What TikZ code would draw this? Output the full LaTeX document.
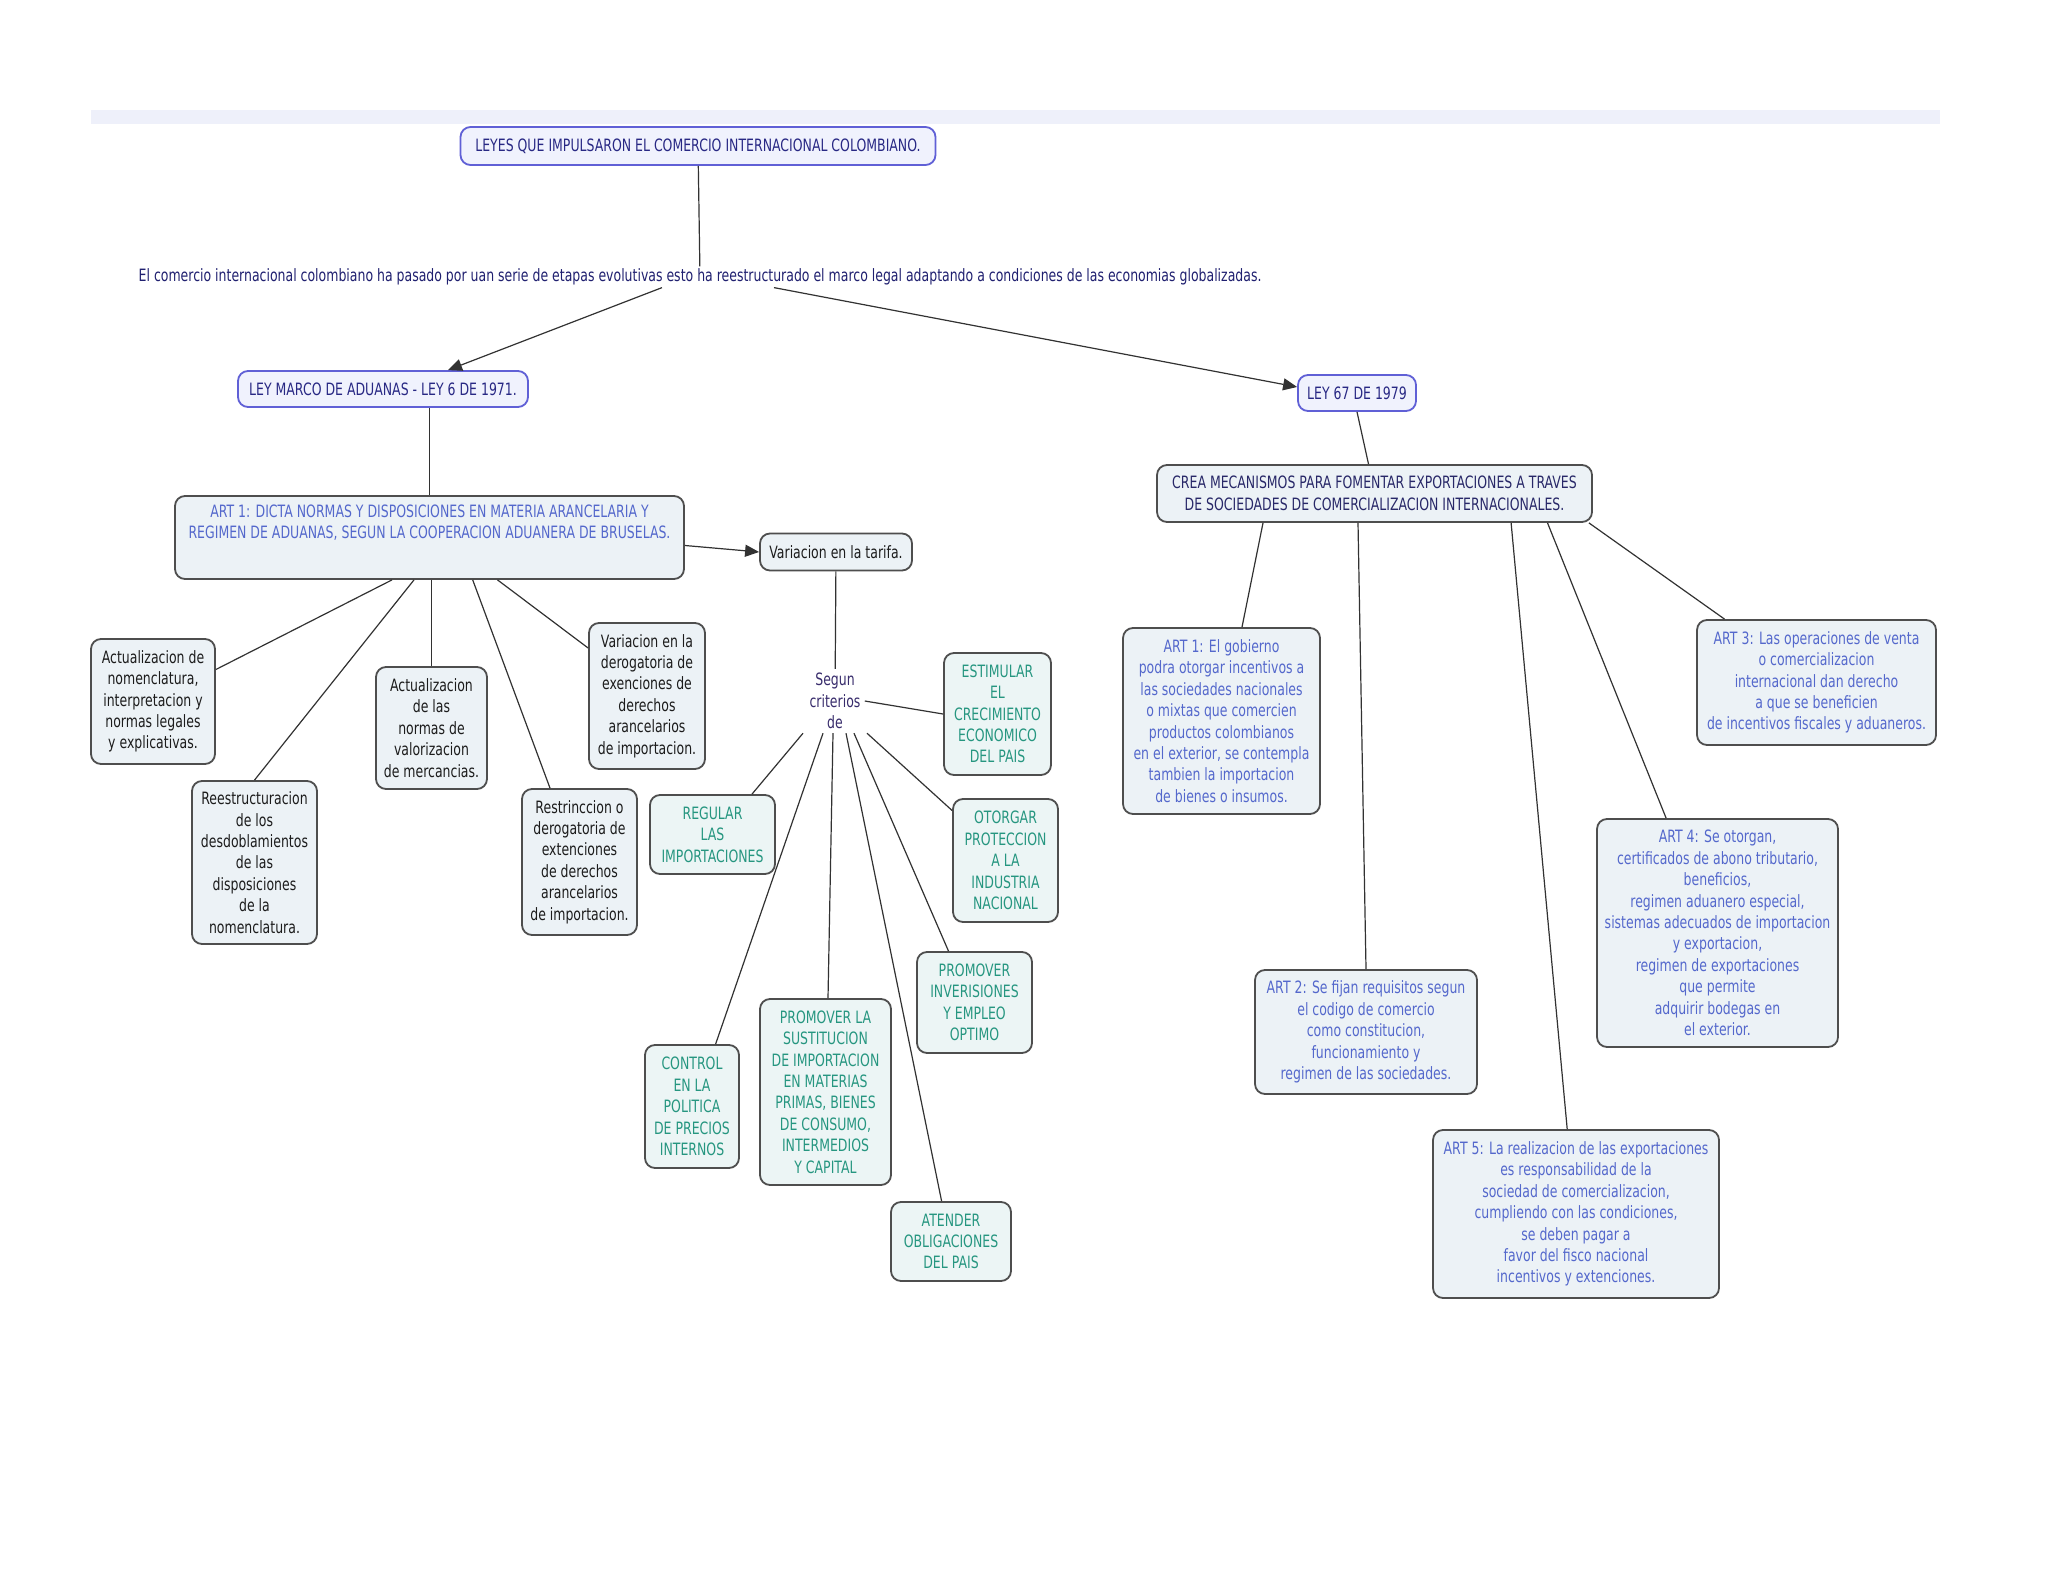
\documentclass[tikz,border=0pt]{standalone}
\usepackage{xcolor}
\usepackage{fontspec}
\setmainfont{DejaVu Sans}[FakeStretch=0.735]
\usepackage{tikz}
\usetikzlibrary{arrows.meta}
\definecolor{leyline}{RGB}{96,96,214}
\definecolor{leyfill}{RGB}{240,242,253}
\definecolor{leytext}{RGB}{40,40,132}
\definecolor{boxline}{RGB}{78,78,78}
\definecolor{notefill}{RGB}{236,242,246}
\definecolor{tealfill}{RGB}{236,245,245}
\definecolor{tealtext}{RGB}{38,150,128}
\definecolor{arttext}{RGB}{84,104,204}
\definecolor{creatext}{RGB}{40,40,104}
\definecolor{introtext}{RGB}{32,32,112}
\definecolor{seguntext}{RGB}{56,44,108}
\definecolor{inkblack}{RGB}{28,28,28}
\definecolor{linkgray}{RGB}{50,50,50}
\definecolor{bandfill}{RGB}{238,240,250}

\begin{document}
\begin{tikzpicture}[x=1pt, y=-1pt,
    every node/.style={font=\fontsize{8.5}{10.7}\selectfont, align=center, inner sep=2pt},
    leybox/.style={draw=leyline, fill=leyfill, text=leytext, rounded corners=5pt, line width=0.9pt},
    notebox/.style={draw=boxline, fill=notefill, text=inkblack, rounded corners=5pt, line width=0.9pt},
    tealbox/.style={notebox, fill=tealfill, text=tealtext},
    artbox/.style={notebox, text=arttext},
    link/.style={draw=linkgray, line width=0.6pt},
    push/.style={link, -{Triangle[length=7pt,width=6pt]}}]
  \fill[white] (0,0) rectangle (1024,791);
  \useasboundingbox (0,0) rectangle (1024,791);
  \fill[bandfill] (45.5,55) rectangle (970,62);

  % top
  \node[leybox, minimum width=237.5pt, minimum height=19pt] (title) at (349,73)
    {LEYES QUE IMPULSARON EL COMERCIO INTERNACIONAL COLOMBIANO.};
  \node[text=introtext, inner sep=1pt] (intro) at (350,138.5)
    {El comercio internacional colombiano ha pasado por uan serie de etapas evolutivas esto ha reestructurado el marco legal adaptando a condiciones de las economias globalizadas.};

  % ley 6 de 1971
  \node[leybox, minimum width=145pt, minimum height=18pt] (leyA) at (191.5,194.5)
    {LEY MARCO DE ADUANAS - LEY 6 DE 1971.};
  \node[notebox, text=arttext, minimum width=254.5pt, minimum height=41.5pt] (artA) at (214.75,268.75)
    {ART 1: DICTA NORMAS Y DISPOSICIONES EN MATERIA ARANCELARIA Y\\REGIMEN DE ADUANAS, SEGUN LA COOPERACION ADUANERA DE BRUSELAS.\\\rule{0pt}{14pt}};
  \node[notebox, minimum width=76pt, minimum height=18.5pt] (tarifa) at (418,276)
    {Variacion en la tarifa.};
  \node[text=seguntext] (segun) at (417.5,350.5) {Segun\\criterios\\de};

  \node[notebox, minimum width=62pt, minimum height=62.5pt] (actA) at (76.5,350.75)
    {Actualizacion de\\nomenclatura,\\interpretacion y\\normas legales\\y explicativas.};
  \node[notebox, minimum width=62.5pt, minimum height=81.5pt] (reeB) at (127.25,431.25)
    {Reestructuracion\\de los\\desdoblamientos\\de las\\disposiciones\\de la\\nomenclatura.};
  \node[notebox, minimum width=55.5pt, minimum height=61pt] (actC) at (215.75,364)
    {Actualizacion\\de las\\normas de\\valorizacion\\de mercancias.};
  \node[notebox, minimum width=57.5pt, minimum height=73pt] (resD) at (289.75,431)
    {Restrinccion o\\derogatoria de\\extenciones\\de derechos\\arancelarios\\de importacion.};
  \node[notebox, minimum width=58pt, minimum height=73pt] (varE) at (323.5,348)
    {Variacion en la\\derogatoria de\\exenciones de\\derechos\\arancelarios\\de importacion.};

  \node[tealbox, minimum width=53.5pt, minimum height=61pt] (estim) at (498.75,357)
    {ESTIMULAR\\EL\\CRECIMIENTO\\ECONOMICO\\DEL PAIS};
  \node[tealbox, minimum width=62.5pt, minimum height=39.5pt] (regul) at (356.25,417.25)
    {REGULAR\\LAS\\IMPORTACIONES};
  \node[tealbox, minimum width=52.5pt, minimum height=61.5pt] (otorg) at (502.75,430.25)
    {OTORGAR\\PROTECCION\\A LA\\INDUSTRIA\\NACIONAL};
  \node[tealbox, minimum width=57.5pt, minimum height=50.5pt] (promI) at (487.25,501.25)
    {PROMOVER\\INVERISIONES\\Y EMPLEO\\OPTIMO};
  \node[tealbox, minimum width=60pt, minimum height=39.5pt] (atend) at (475.5,620.75)
    {ATENDER\\OBLIGACIONES\\DEL PAIS};
  \node[tealbox, minimum width=65.5pt, minimum height=93pt] (promS) at (412.75,546)
    {PROMOVER LA\\SUSTITUCION\\DE IMPORTACION\\EN MATERIAS\\PRIMAS, BIENES\\DE CONSUMO,\\INTERMEDIOS\\Y CAPITAL};
  \node[tealbox, minimum width=47pt, minimum height=61.5pt] (contr) at (346,553.25)
    {CONTROL\\EN LA\\POLITICA\\DE PRECIOS\\INTERNOS};

  % ley 67 de 1979
  \node[leybox, minimum width=59pt, minimum height=18pt] (leyB) at (678.5,196.5) {LEY 67 DE 1979};
  \node[notebox, text=creatext, minimum width=217.5pt, minimum height=28.5pt] (crea) at (687.25,246.75)
    {CREA MECANISMOS PARA FOMENTAR EXPORTACIONES A TRAVES\\DE SOCIEDADES DE COMERCIALIZACION INTERNACIONALES.};
  \node[artbox, minimum width=98.5pt, minimum height=93pt] (artB1) at (610.75,360.5)
    {ART 1: El gobierno\\podra otorgar incentivos a\\las sociedades nacionales\\o mixtas que comercien\\productos colombianos\\en el exterior, se contempla\\tambien la importacion\\de bienes o insumos.};
  \node[artbox, minimum width=111pt, minimum height=62pt] (artB2) at (683,516)
    {ART 2: Se fijan requisitos segun\\el codigo de comercio\\como constitucion,\\funcionamiento y\\regimen de las sociedades.};
  \node[artbox, minimum width=119.5pt, minimum height=62.5pt] (artB3) at (908.25,341.25)
    {ART 3: Las operaciones de venta\\o comercializacion\\internacional dan derecho\\a que se beneficien\\de incentivos fiscales y aduaneros.};
  \node[artbox, minimum width=120.5pt, minimum height=114pt] (artB4) at (858.75,466.5)
    {ART 4: Se otorgan,\\certificados de abono tributario,\\beneficios,\\regimen aduanero especial,\\sistemas adecuados de importacion\\y exportacion,\\regimen de exportaciones\\que permite\\adquirir bodegas en\\el exterior.};
  \node[artbox, minimum width=143pt, minimum height=84pt] (artB5) at (788,607)
    {ART 5: La realizacion de las exportaciones\\es responsabilidad de la\\sociedad de comercializacion,\\cumpliendo con las condiciones,\\se deben pagar a\\favor del fisco nacional\\incentivos y extenciones.};

  % connectors
  \draw[link] (title) -- (intro);
  \draw[push] ([xshift=-19pt]intro.south) -- ([xshift=32.5pt]leyA.north);
  \draw[push] ([xshift=37pt]intro.south) -- ([yshift=3pt]leyB.west);
  \draw[link] (leyA.south -| artA.north) -- (artA.north);
  \draw[push] ([yshift=-4pt]artA.east) -- (tarifa.west);
  \draw[link] (tarifa) -- (segun);

  \draw[link] ([xshift=-18.75pt]artA.south) -- ([yshift=16pt]actA.east);
  \draw[link] ([xshift=-7.75pt]artA.south) -- (reeB.north);
  \draw[link] (actC.north |- artA.south) -- (actC.north);
  \draw[link] ([xshift=21.6pt]artA.south) -- ([xshift=-14.75pt]resD.north);
  \draw[link] ([xshift=34pt]artA.south) -- ([yshift=24pt]varE.west);

  \draw[link] (segun.east) -- (estim.west);
  \draw[link] ([xshift=-16pt]segun.south) -- ([xshift=19.75pt]regul.north);
  \draw[link] ([xshift=-6pt]segun.south) -- ([xshift=11.8pt]contr.north);
  \draw[link] ([xshift=-1pt]segun.south) -- ([xshift=1.25pt]promS.north);
  \draw[link] ([xshift=5.5pt]segun.south) -- ([xshift=-4.7pt]atend.north);
  \draw[link] ([xshift=9.5pt]segun.south) -- ([xshift=-13pt]promI.north);
  \draw[link] ([xshift=16pt]segun.south) -- ([yshift=25pt]otorg.west);

  \draw[link] (leyB.south) -- ([xshift=-3pt]crea.north);
  \draw[link] ([xshift=-55.75pt]crea.south) -- ([xshift=10.25pt]artB1.north);
  \draw[link] ([xshift=-8.25pt]crea.south) -- (artB2.north);
  \draw[link] ([xshift=68.3pt]crea.south) -- ([xshift=-4.4pt]artB5.north);
  \draw[link] ([xshift=86.5pt]crea.south) -- ([xshift=-25.7pt]artB4.north);
  \draw[link] ([xshift=-2pt]crea.south east) -- ([xshift=-46pt]artB3.north);
\end{tikzpicture}
\end{document}
